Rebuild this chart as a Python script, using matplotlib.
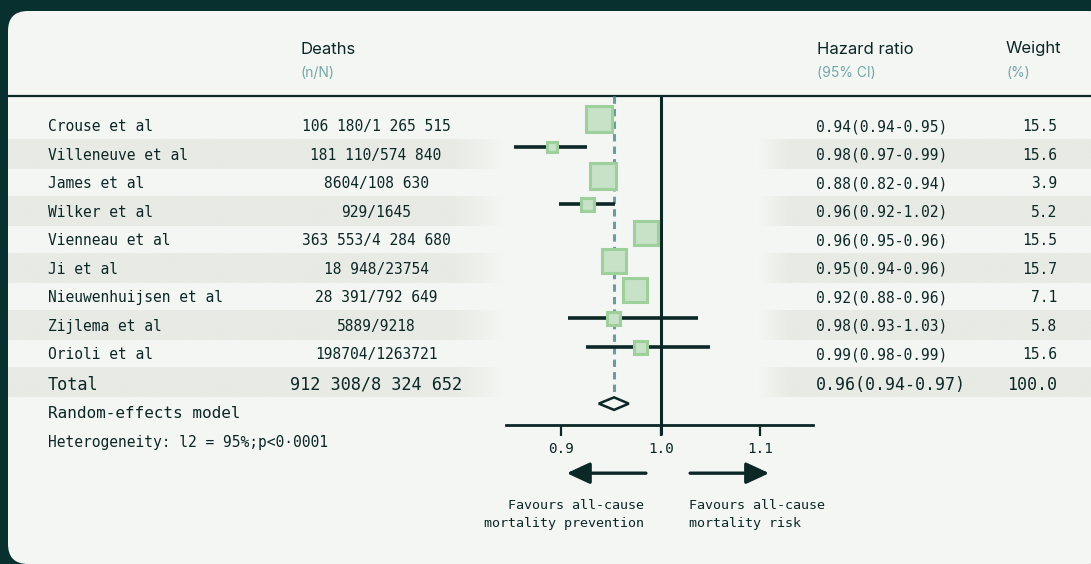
import matplotlib
matplotlib.use("Agg")
import matplotlib.pyplot as plt
import numpy as np
from matplotlib.patches import FancyBboxPatch, Polygon
from matplotlib import transforms

# ---------------- data ----------------
studies = ["Crouse et al", "Villeneuve et al", "James et al", "Wilker et al",
           "Vienneau et al", "Ji et al", "Nieuwenhuijsen et al", "Zijlema et al",
           "Orioli et al"]
deaths = ["106 180/1 265 515", "181 110/574 840", "8604/108 630", "929/1645",
          "363 553/4 284 680", "18 948/23754", "28 391/792 649", "5889/9218",
          "198704/1263721"]
hr_text = ["0.94(0.94-0.95)", "0.98(0.97-0.99)", "0.88(0.82-0.94)", "0.96(0.92-1.02)",
           "0.96(0.95-0.96)", "0.95(0.94-0.96)", "0.92(0.88-0.96)", "0.98(0.93-1.03)",
           "0.99(0.98-0.99)"]
weights = ["15.5", "15.6", "3.9", "5.2", "15.5", "15.7", "7.1", "5.8", "15.6"]
# plotted positions as drawn in the picture
hr_point = [0.938, 0.891, 0.9415, 0.926, 0.985, 0.953, 0.974, 0.952, 0.979]
ci_low = [0.933, 0.853, 0.936, 0.8975, 0.979, 0.947, 0.968, 0.9065, 0.9246]
ci_high = [0.943, 0.926, 0.947, 0.954, 0.991, 0.959, 0.980, 1.037, 1.049]
pooled_hr = 0.953
pooled_low = 0.9377
pooled_high = 0.9678
total_label = "Total"
total_deaths = "912 308/8 324 652"
total_hr = "0.96(0.94-0.97)"
total_weight = "100.0"
model_label = "Random-effects model"
heterogeneity = "Heterogeneity: l2 = 95%;p<0\u00b70001"
xticks = [0.9, 1.0, 1.1]
xtick_labels = ["0.9", "1.0", "1.1"]
favour_left = "Favours all-cause\nmortality prevention"
favour_right = "Favours all-cause\nmortality risk"

# ---------------- style ----------------
marker_px = [29, 13, 30, 16, 27, 27, 27, 16, 16]
W, H = 1091, 564
BG = "#07302f"
CARD = "#f4f6f3"
STRIPE = "#e8eae5"
DARK = "#0b2726"
TEAL = "#72a8a4"
SQ_FACE = "#c7e2c7"
SQ_EDGE = "#9dd09b"
DASH = "#6c9c9e"
MONO = "DejaVu Sans Mono"
SANS = "Inter"
ROWFS = 10.5

fig = plt.figure(figsize=(W / 100, H / 100), dpi=100, facecolor=BG)
bg = fig.add_axes([0, 0, 1, 1], zorder=0)
bg.set_xlim(0, W)
bg.set_ylim(H, 0)
bg.axis("off")

card = FancyBboxPatch((8, 11), 1100, 553, boxstyle="round,pad=0,rounding_size=20",
                      facecolor=CARD, edgecolor="none")
bg.add_patch(card)

# forest axes
ax = fig.add_axes([506 / W, 1 - 425 / H, 307 / W, 329 / H], zorder=2)
ax.set_facecolor("none")
ax.set_xlim(0.8445, 1.1528)
ax.set_ylim(10.75, -0.79)
for s in ["top", "left", "right"]:
    ax.spines[s].set_visible(False)
ax.spines["bottom"].set_linewidth(2.0)
ax.spines["bottom"].set_color(DARK)
ax.set_yticks([])
ax.set_xticks(xticks)
ax.set_xticklabels(xtick_labels, fontfamily=MONO, fontsize=10.3, color=DARK)
ax.tick_params(axis="x", direction="out", length=8, width=1.6, color=DARK, pad=4)

def row_px(yd):
    return H - ax.transData.transform((1.0, yd))[1]

# stripes (alternating rows, fading towards the plot area)
row_text_off = 0.28
ncol = 200
for i in list(range(1, 9, 2)) + [9]:
    yc = i + 0.25
    top = row_px(yc - 0.51)
    bot = row_px(yc + 0.51)
    # left stripe
    x0, x1, f0, f1 = 8, 505, 453, 505
    xs = np.linspace(x0, x1, ncol)
    alpha = np.clip((f1 - xs) / (f1 - f0), 0, 1)
    img = np.zeros((1, ncol, 4))
    img[..., :3] = matplotlib.colors.to_rgb(STRIPE)
    img[0, :, 3] = alpha
    bg.imshow(img, extent=(x0, x1, bot, top), aspect="auto", interpolation="bilinear", zorder=1)
    # right stripe
    x0, x1, f0, f1 = 757, 1091, 757, 790
    xs = np.linspace(x0, x1, ncol)
    alpha = np.clip((xs - f0) / (f1 - f0), 0, 1)
    img = np.zeros((1, ncol, 4))
    img[..., :3] = matplotlib.colors.to_rgb(STRIPE)
    img[0, :, 3] = alpha
    bg.imshow(img, extent=(x0, x1, bot, top), aspect="auto", interpolation="bilinear", zorder=1)
bg.set_xlim(0, W)
bg.set_ylim(H, 0)

# header
bg.plot([8, W], [96, 96], color=DARK, lw=1.6, solid_capstyle="butt", zorder=3)
for x, t1, t2 in [(301, "Deaths", "(n/N)"), (817, "Hazard ratio", "(95% CI)"), (1006, "Weight", "(%)")]:
    bg.text(x, 49, t1, fontfamily=SANS, fontsize=12, color=DARK, va="center", ha="left", zorder=4)
    bg.text(x, 73, t2, fontfamily=SANS, fontsize=10, color=TEAL, va="center", ha="left", zorder=4)

# row texts
tr = transforms.blended_transform_factory(bg.transData, ax.transData)
for i in range(len(studies)):
    y = i + row_text_off
    bg.text(48, y, studies[i], transform=tr, fontfamily=MONO, fontsize=ROWFS, color=DARK, va="center", ha="left", zorder=4)
    bg.text(376, y, deaths[i], transform=tr, fontfamily=MONO, fontsize=ROWFS, color=DARK, va="center", ha="center", zorder=4)
    bg.text(816, y, hr_text[i], transform=tr, fontfamily=MONO, fontsize=ROWFS, color=DARK, va="center", ha="left", zorder=4)
    bg.text(1057, y, weights[i], transform=tr, fontfamily=MONO, fontsize=ROWFS, color=DARK, va="center", ha="right", zorder=4)

yt = len(studies) + 0.33
bg.text(48, yt, total_label, transform=tr, fontfamily=MONO, fontsize=12.2, color=DARK, va="center", ha="left", zorder=4)
bg.text(376, yt, total_deaths, transform=tr, fontfamily=MONO, fontsize=12.2, color=DARK, va="center", ha="center", zorder=4)
bg.text(816, yt, total_hr, transform=tr, fontfamily=MONO, fontsize=12.0, color=DARK, va="center", ha="left", zorder=4)
bg.text(1057, yt, total_weight, transform=tr, fontfamily=MONO, fontsize=12.0, color=DARK, va="center", ha="right", zorder=4)
bg.text(48, 10.35, model_label, transform=tr, fontfamily=MONO, fontsize=11.5, color=DARK, va="center", ha="left", zorder=4)
bg.text(48, 11.37, heterogeneity, transform=tr, fontfamily=MONO, fontsize=ROWFS, color=DARK, va="center", ha="left", zorder=4)

# forest marks
ypos = np.arange(len(studies))
ax.plot([1.0, 1.0], [-0.79, 11.1], color=DARK, lw=2.2, clip_on=False, zorder=3, solid_capstyle="butt")
ax.plot([pooled_hr, pooled_hr], [-0.79, len(studies) + 1 - 0.22], color=DASH, lw=2.2,
        dashes=(2.4, 1.7), zorder=2)
ax.hlines(ypos, ci_low, ci_high, color=DARK, lw=2.6, zorder=4)
for i in range(len(studies)):
    ms = (marker_px[i] - 3) * 0.72
    ax.plot(hr_point[i], ypos[i], marker="s", ms=ms, mfc=SQ_FACE, mec=SQ_EDGE, mew=2.2, zorder=5)
yd = len(studies) + 1
diamond = Polygon([[pooled_low, yd], [pooled_hr, yd - 0.22], [pooled_high, yd], [pooled_hr, yd + 0.22]],
                  closed=True, facecolor=CARD, edgecolor=DARK, lw=1.8, zorder=5)
ax.add_patch(diamond)

# arrows
ya = 12.44
ax.annotate("", xy=(0.9055, ya), xytext=(0.985, ya), annotation_clip=False,
            arrowprops=dict(arrowstyle="-|>,head_length=1.4,head_width=0.65", mutation_scale=10,
                            lw=2.4, color=DARK, shrinkA=0, shrinkB=0))
ax.annotate("", xy=(1.1088, ya), xytext=(1.0294, ya), annotation_clip=False,
            arrowprops=dict(arrowstyle="-|>,head_length=1.4,head_width=0.65", mutation_scale=10,
                            lw=2.4, color=DARK, shrinkA=0, shrinkB=0))
bg.text(644, 514.5, favour_left, fontfamily=MONO, fontsize=9.6, color=DARK, ha="right", va="center",
        multialignment="right", linespacing=1.45, zorder=4)
bg.text(689, 514.5, favour_right, fontfamily=MONO, fontsize=9.6, color=DARK, ha="left", va="center",
        multialignment="left", linespacing=1.45, zorder=4)

fig.savefig("out.png", dpi=100, facecolor=BG)
